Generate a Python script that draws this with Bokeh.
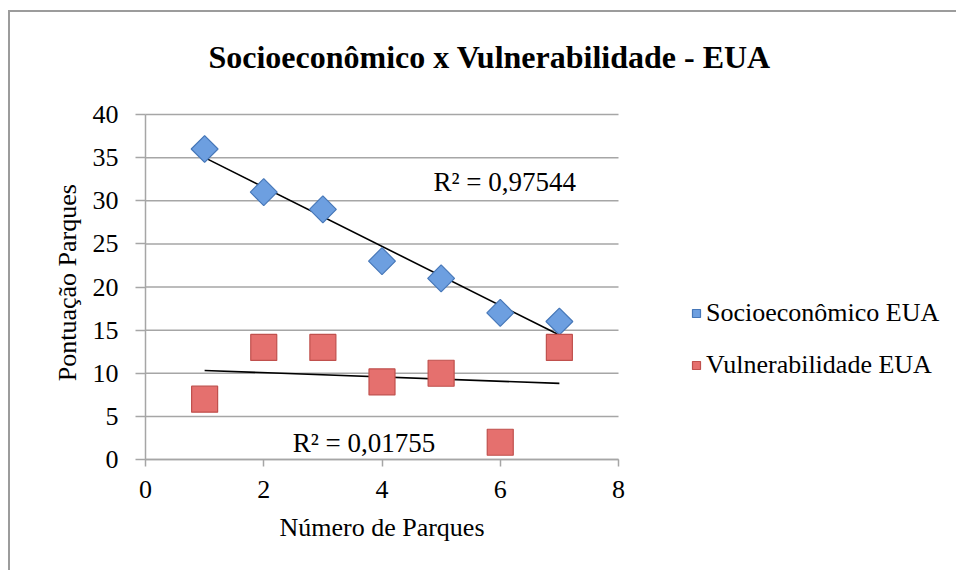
import numpy as np
from bokeh.plotting import figure
from bokeh.models import Range1d, Label, Legend, LegendItem, FixedTicker
from bokeh.embed import file_html
from bokeh.resources import INLINE

# ---- data ----
parques = [1, 2, 3, 4, 5, 6, 7]
socio = [36, 31, 29, 23, 21, 17, 16]
vuln = [7, 13, 13, 9, 10, 2, 13]
x_ticks = [0, 2, 4, 6, 8]
y_ticks = [0, 5, 10, 15, 20, 25, 30, 35, 40]
r2_socio = "R\u00b2 = 0,97544"
r2_vuln = "R\u00b2 = 0,01755"
title_text = "Socioecon\u00f4mico x Vulnerabilidade - EUA"
x_label = "N\u00famero de Parques"
y_label = "Pontua\u00e7\u00e3o Parques"
names = ["Socioecon\u00f4mico EUA", "Vulnerabilidade EUA"]

SERIF = "Liberation Serif"
GRID = "#a6a6a6"
FS = "26px"

# geometry (pixels)
W, H = 948, 560
LEFT_TO_ZERO = 135         # canvas left -> x=0 line
TOP_TO_ZERO = 447          # canvas top -> y=0 line
PX_X = 473 / 8.0           # pixels per x unit
PX_Y = 345 / 40.0          # pixels per y unit

p = figure(width=W, height=H, output_backend="svg", toolbar_location=None,
           x_range=Range1d(-LEFT_TO_ZERO / PX_X, (W - LEFT_TO_ZERO) / PX_X),
           y_range=Range1d(-(H - TOP_TO_ZERO) / PX_Y, TOP_TO_ZERO / PX_Y),
           min_border_left=0, min_border_right=0,
           min_border_top=0, min_border_bottom=0)
p.styles = {"border-left": "2px solid #9c9c9c", "border-top": "2px solid #9c9c9c",
            "margin-top": "10px", "margin-left": "8px"}
p.outline_line_color = None
p.background_fill_color = "white"
p.border_fill_color = "white"
p.xgrid.grid_line_color = None
p.ygrid.grid_line_color = None

# horizontal grid lines limited to the axis extent
p.segment(x0=x_ticks[0], x1=x_ticks[-1], y0=y_ticks, y1=y_ticks,
          line_color=GRID, line_width=1.5)

for ax in (p.xaxis, p.yaxis):
    ax.axis_line_color = GRID
    ax.axis_line_width = 1.5
    ax.major_tick_line_color = GRID
    ax.major_tick_line_width = 1.5
    ax.minor_tick_line_color = None
    ax.major_tick_in = 0
    ax.major_label_text_font = SERIF
    ax.major_label_text_font_size = FS
    ax.major_label_text_color = "black"
    ax.axis_label_text_font = SERIF
    ax.axis_label_text_font_size = FS
    ax.axis_label_text_font_style = "normal"
    ax.axis_label_text_color = "black"

p.xaxis.ticker = FixedTicker(ticks=x_ticks)
p.yaxis.ticker = FixedTicker(ticks=y_ticks)
p.xaxis.bounds = (x_ticks[0], x_ticks[-1])
p.yaxis.bounds = (y_ticks[0], y_ticks[-1])
p.xaxis.fixed_location = y_ticks[0]
p.yaxis.fixed_location = x_ticks[0]
p.xaxis.major_tick_out = 7
p.yaxis.major_tick_out = 10
p.xaxis.major_label_standoff = 14
p.yaxis.major_label_standoff = 17

# trend lines (least squares fit of the data)
xs = np.array(parques, dtype=float)
for ys in (socio, vuln):
    m, b = np.polyfit(xs, np.array(ys, dtype=float), 1)
    p.line([xs[0], xs[-1]], [m * xs[0] + b, m * xs[-1] + b], line_color="black", line_width=1.6)

r_socio = p.scatter(parques, socio, marker="square", angle=np.pi / 4, size=19,
                    fill_color="#6d9fe0", line_color="#4677b8", line_width=1.2)
r_vuln = p.scatter(parques, vuln, marker="square", size=26,
                   fill_color="#e5706e", line_color="#c0504d", line_width=1.2)

p.add_layout(Label(x=4.87, y=32.17, text=r2_socio, text_font=SERIF, text_font_size="27px",
                   text_color="black", text_baseline="middle", text_align="left"))
p.add_layout(Label(x=2.49, y=1.91, text=r2_vuln, text_font=SERIF, text_font_size="27px",
                   text_color="black", text_baseline="middle", text_align="left"))
p.add_layout(Label(x=5.82, y=46.61, text=title_text, text_font=SERIF, text_font_size="32px",
                   text_color="black", text_font_style="bold", text_baseline="middle",
                   text_align="center"))
p.add_layout(Label(x=(x_ticks[0] + x_ticks[-1]) / 2, y=-7.9, text=x_label, text_font=SERIF,
                   text_font_size=FS, text_color="black", text_baseline="middle",
                   text_align="center"))
p.add_layout(Label(x=-1.32, y=(y_ticks[0] + y_ticks[-1]) / 2 + 0.5, text=y_label,
                   text_font=SERIF, text_font_size=FS, text_color="black",
                   text_baseline="middle", text_align="center", angle=np.pi / 2))

legend = Legend(items=[LegendItem(label=names[0], renderers=[r_socio]),
                       LegendItem(label=names[1], renderers=[r_vuln])],
                location=(676, 192), padding=0, margin=0, spacing=22,
                glyph_width=20, glyph_height=26, label_height=26, label_standoff=0,
                border_line_color=None, background_fill_alpha=0,
                label_text_font=SERIF, label_text_font_size=FS, label_text_color="black")
p.add_layout(legend)

open("out.html", "w").write(file_html(p, INLINE))
